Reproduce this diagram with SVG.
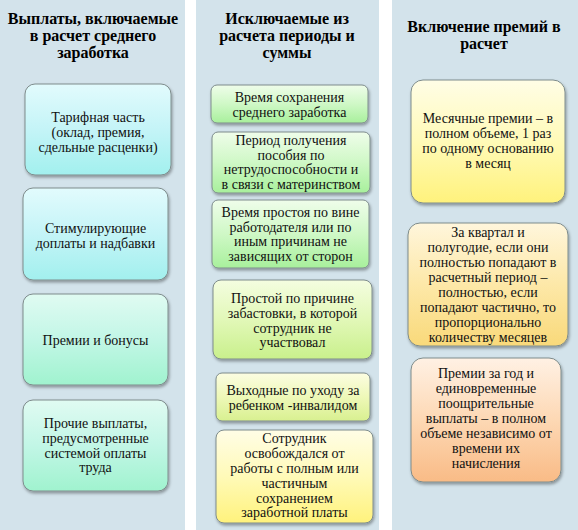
<svg xmlns="http://www.w3.org/2000/svg" width="578" height="530" viewBox="0 0 578 530">
<defs>
<linearGradient id="gCyan" x1="0" y1="0" x2="0" y2="1">
<stop offset="0" stop-color="#e2fbfd"/><stop offset="0.5" stop-color="#c4f4f7"/><stop offset="1" stop-color="#a2f0ee"/>
</linearGradient>
<linearGradient id="gCyanGreen" x1="0" y1="0" x2="0" y2="1">
<stop offset="0" stop-color="#e0fbf2"/><stop offset="0.5" stop-color="#c2f6e6"/><stop offset="1" stop-color="#a0f3cf"/>
</linearGradient>
<linearGradient id="gGreen" x1="0" y1="0" x2="0" y2="1">
<stop offset="0" stop-color="#effdea"/><stop offset="0.5" stop-color="#cff8c6"/><stop offset="1" stop-color="#a8f09c"/>
</linearGradient>
<linearGradient id="gLime" x1="0" y1="0" x2="0" y2="1">
<stop offset="0" stop-color="#f4fde0"/><stop offset="0.5" stop-color="#e2f8b8"/><stop offset="1" stop-color="#c9f08c"/>
</linearGradient>
<linearGradient id="gYellowGreen" x1="0" y1="0" x2="0" y2="1">
<stop offset="0" stop-color="#fcfde2"/><stop offset="0.5" stop-color="#eef8b8"/><stop offset="1" stop-color="#d8f090"/>
</linearGradient>
<linearGradient id="gYellow" x1="0" y1="0" x2="0" y2="1">
<stop offset="0" stop-color="#fffde6"/><stop offset="0.5" stop-color="#fffab8"/><stop offset="1" stop-color="#fff27c"/>
</linearGradient>
<linearGradient id="gGold" x1="0" y1="0" x2="0" y2="1">
<stop offset="0" stop-color="#fff6dc"/><stop offset="0.5" stop-color="#fde8a8"/><stop offset="1" stop-color="#f9d97a"/>
</linearGradient>
<linearGradient id="gPeach" x1="0" y1="0" x2="0" y2="1">
<stop offset="0" stop-color="#fff1e4"/><stop offset="0.5" stop-color="#fdd8b4"/><stop offset="1" stop-color="#f9bb86"/>
</linearGradient>
<filter id="sh" x="-10%" y="-10%" width="125%" height="130%">
<feDropShadow dx="1" dy="2" stdDeviation="1.5" flood-color="#000" flood-opacity="0.35"/>
</filter>
</defs>
<rect x="0" y="0" width="578" height="530" fill="#ffffff"/>
<g id="columns" fill="#d3e3eb">
<rect x="0" y="0" width="185" height="530"/>
<rect x="196" y="0" width="183" height="530"/>
<rect x="392" y="0" width="186" height="530"/>
</g>
<g id="titles">
<text x="93" y="24" font-family="Liberation Serif" font-weight="bold" font-size="16" text-anchor="middle" fill="#000">Выплаты, включаемые</text>
<text x="93" y="41" font-family="Liberation Serif" font-weight="bold" font-size="16" text-anchor="middle" fill="#000">в расчет среднего</text>
<text x="93" y="58" font-family="Liberation Serif" font-weight="bold" font-size="16" text-anchor="middle" fill="#000">заработка</text>
<text x="287" y="24" font-family="Liberation Serif" font-weight="bold" font-size="16" text-anchor="middle" fill="#000">Исключаемые из</text>
<text x="287" y="41" font-family="Liberation Serif" font-weight="bold" font-size="16" text-anchor="middle" fill="#000">расчета периоды и</text>
<text x="287" y="58" font-family="Liberation Serif" font-weight="bold" font-size="16" text-anchor="middle" fill="#000">суммы</text>
<text x="484" y="32" font-family="Liberation Serif" font-weight="bold" font-size="16" text-anchor="middle" fill="#000">Включение премий в</text>
<text x="484" y="49" font-family="Liberation Serif" font-weight="bold" font-size="16" text-anchor="middle" fill="#000">расчет</text>
</g>
<g id="connectors"></g>
<g id="nodes">
<g id="n1">
<rect x="25" y="84" width="146" height="91" rx="10" fill="url(#gCyan)" stroke="#7e8c8c" filter="url(#sh)"/>
<text x="98" y="122" font-family="Liberation Serif" font-size="14" text-anchor="middle" fill="#111">Тарифная часть</text>
<text x="98" y="137" font-family="Liberation Serif" font-size="14" text-anchor="middle" fill="#111">(оклад, премия,</text>
<text x="98" y="152" font-family="Liberation Serif" font-size="14" text-anchor="middle" fill="#111">сдельные  расценки)</text>
</g>
<g id="n2">
<rect x="23" y="188" width="145" height="92" rx="10" fill="url(#gCyan)" stroke="#7e8c8c" filter="url(#sh)"/>
<text x="95.5" y="233" font-family="Liberation Serif" font-size="14" text-anchor="middle" fill="#111">Стимулирующие</text>
<text x="95.5" y="248" font-family="Liberation Serif" font-size="14" text-anchor="middle" fill="#111">доплаты и надбавки</text>
</g>
<g id="n3">
<rect x="23" y="294" width="145" height="91" rx="10" fill="url(#gCyanGreen)" stroke="#7e8c8c" filter="url(#sh)"/>
<text x="95.5" y="345" font-family="Liberation Serif" font-size="14" text-anchor="middle" fill="#111">Премии и бонусы</text>
</g>
<g id="n4">
<rect x="23" y="400" width="145" height="91" rx="10" fill="url(#gCyanGreen)" stroke="#7e8c8c" filter="url(#sh)"/>
<text x="95.5" y="428" font-family="Liberation Serif" font-size="14" text-anchor="middle" fill="#111">Прочие выплаты,</text>
<text x="95.5" y="443" font-family="Liberation Serif" font-size="14" text-anchor="middle" fill="#111">предусмотренные</text>
<text x="95.5" y="457.5" font-family="Liberation Serif" font-size="14" text-anchor="middle" fill="#111">системой оплаты</text>
<text x="95.5" y="472" font-family="Liberation Serif" font-size="14" text-anchor="middle" fill="#111">труда</text>
</g>
<g id="e1">
<rect x="211" y="85" width="157" height="38" rx="6" fill="url(#gGreen)" stroke="#7e8c8c" filter="url(#sh)"/>
<text x="289.5" y="102" font-family="Liberation Serif" font-size="14" text-anchor="middle" fill="#111">Время сохранения</text>
<text x="289.5" y="117" font-family="Liberation Serif" font-size="14" text-anchor="middle" fill="#111">среднего заработка</text>
</g>
<g id="e2">
<rect x="212" y="132" width="158" height="61" rx="6" fill="url(#gGreen)" stroke="#7e8c8c" filter="url(#sh)"/>
<text x="291" y="145" font-family="Liberation Serif" font-size="14" text-anchor="middle" fill="#111">Период получения</text>
<text x="291" y="159.5" font-family="Liberation Serif" font-size="14" text-anchor="middle" fill="#111">пособия по</text>
<text x="291" y="174" font-family="Liberation Serif" font-size="14" text-anchor="middle" fill="#111">нетрудоспособности  и</text>
<text x="291" y="188.5" font-family="Liberation Serif" font-size="14" text-anchor="middle" fill="#111">в связи с материнством</text>
</g>
<g id="e3">
<rect x="212" y="200" width="157" height="68" rx="6" fill="url(#gGreen)" stroke="#7e8c8c" filter="url(#sh)"/>
<text x="290.5" y="217" font-family="Liberation Serif" font-size="14" text-anchor="middle" fill="#111">Время простоя по вине</text>
<text x="290.5" y="231.5" font-family="Liberation Serif" font-size="14" text-anchor="middle" fill="#111">работодателя   или по</text>
<text x="290.5" y="246" font-family="Liberation Serif" font-size="14" text-anchor="middle" fill="#111">иным причинам не</text>
<text x="290.5" y="260.5" font-family="Liberation Serif" font-size="14" text-anchor="middle" fill="#111">зависящих от сторон</text>
</g>
<g id="e4">
<rect x="213" y="280" width="159" height="79" rx="8" fill="url(#gLime)" stroke="#7e8c8c" filter="url(#sh)"/>
<text x="292.5" y="303" font-family="Liberation Serif" font-size="14" text-anchor="middle" fill="#111">Простой по причине</text>
<text x="292.5" y="318" font-family="Liberation Serif" font-size="14" text-anchor="middle" fill="#111">забастовки, в которой</text>
<text x="292.5" y="332.5" font-family="Liberation Serif" font-size="14" text-anchor="middle" fill="#111">сотрудник не</text>
<text x="292.5" y="347" font-family="Liberation Serif" font-size="14" text-anchor="middle" fill="#111">участвовал</text>
</g>
<g id="e5">
<rect x="216" y="373" width="154" height="48" rx="6" fill="url(#gYellowGreen)" stroke="#7e8c8c" filter="url(#sh)"/>
<text x="293" y="395" font-family="Liberation Serif" font-size="14" text-anchor="middle" fill="#111">Выходные по уходу за</text>
<text x="293" y="410" font-family="Liberation Serif" font-size="14" text-anchor="middle" fill="#111">ребенком -инвалидом</text>
</g>
<g id="e6">
<rect x="216" y="430" width="157" height="93" rx="8" fill="url(#gYellow)" stroke="#7e8c8c" filter="url(#sh)"/>
<text x="294.5" y="443" font-family="Liberation Serif" font-size="14" text-anchor="middle" fill="#111">Сотрудник</text>
<text x="294.5" y="458" font-family="Liberation Serif" font-size="14" text-anchor="middle" fill="#111">освобождался от</text>
<text x="294.5" y="473" font-family="Liberation Serif" font-size="14" text-anchor="middle" fill="#111">работы с полным или</text>
<text x="294.5" y="488" font-family="Liberation Serif" font-size="14" text-anchor="middle" fill="#111">частичным</text>
<text x="294.5" y="502.5" font-family="Liberation Serif" font-size="14" text-anchor="middle" fill="#111">сохранением</text>
<text x="294.5" y="517" font-family="Liberation Serif" font-size="14" text-anchor="middle" fill="#111">заработной платы</text>
</g>
<g id="p1">
<rect x="411" y="80" width="154" height="123" rx="12" fill="url(#gYellow)" stroke="#7e8c8c" filter="url(#sh)"/>
<text x="488" y="123" font-family="Liberation Serif" font-size="14" text-anchor="middle" fill="#111">Месячные  премии – в</text>
<text x="488" y="138" font-family="Liberation Serif" font-size="14" text-anchor="middle" fill="#111">полном объеме, 1 раз</text>
<text x="488" y="153" font-family="Liberation Serif" font-size="14" text-anchor="middle" fill="#111">по одному основанию</text>
<text x="488" y="168" font-family="Liberation Serif" font-size="14" text-anchor="middle" fill="#111">в месяц</text>
</g>
<g id="p2">
<rect x="408" y="223" width="160" height="123" rx="12" fill="url(#gGold)" stroke="#7e8c8c" filter="url(#sh)"/>
<text x="488" y="237" font-family="Liberation Serif" font-size="14" text-anchor="middle" fill="#111">За квартал и</text>
<text x="488" y="252" font-family="Liberation Serif" font-size="14" text-anchor="middle" fill="#111">полугодие, если они</text>
<text x="488" y="267" font-family="Liberation Serif" font-size="14" text-anchor="middle" fill="#111">полностью попадают  в</text>
<text x="488" y="282" font-family="Liberation Serif" font-size="14" text-anchor="middle" fill="#111">расчетный период –</text>
<text x="488" y="297" font-family="Liberation Serif" font-size="14" text-anchor="middle" fill="#111">полностью, если</text>
<text x="488" y="312" font-family="Liberation Serif" font-size="14" text-anchor="middle" fill="#111">попадают частично, то</text>
<text x="488" y="327" font-family="Liberation Serif" font-size="14" text-anchor="middle" fill="#111">пропорционально</text>
<text x="488" y="342" font-family="Liberation Serif" font-size="14" text-anchor="middle" fill="#111">количеству месяцев</text>
</g>
<g id="p3">
<rect x="411" y="358" width="150" height="124" rx="12" fill="url(#gPeach)" stroke="#7e8c8c" filter="url(#sh)"/>
<text x="486" y="378" font-family="Liberation Serif" font-size="14" text-anchor="middle" fill="#111">Премии за год и</text>
<text x="486" y="393" font-family="Liberation Serif" font-size="14" text-anchor="middle" fill="#111">единовременные</text>
<text x="486" y="408" font-family="Liberation Serif" font-size="14" text-anchor="middle" fill="#111">поощрительные</text>
<text x="486" y="423" font-family="Liberation Serif" font-size="14" text-anchor="middle" fill="#111">выплаты – в полном</text>
<text x="486" y="438" font-family="Liberation Serif" font-size="14" text-anchor="middle" fill="#111">объеме независимо от</text>
<text x="486" y="453" font-family="Liberation Serif" font-size="14" text-anchor="middle" fill="#111">времени их</text>
<text x="486" y="468" font-family="Liberation Serif" font-size="14" text-anchor="middle" fill="#111">начисления</text>
</g>
</g>
</svg>
